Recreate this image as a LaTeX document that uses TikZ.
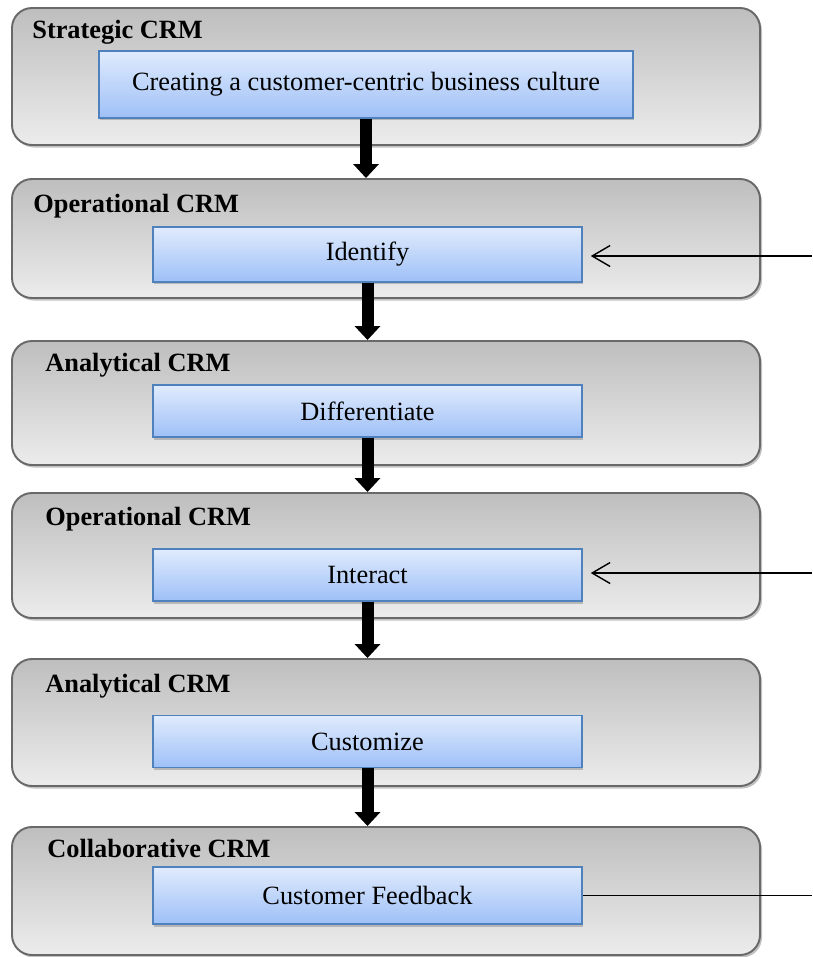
\documentclass[tikz,border=0pt]{standalone}
\usepackage{fontspec}
\setmainfont{Liberation Serif}
\usetikzlibrary{arrows.meta,fit,shadows}

\definecolor{layertop}{RGB}{190,190,190}
\definecolor{layerbot}{RGB}{236,236,236}
\definecolor{layerline}{RGB}{105,105,105}
\definecolor{tasktop}{RGB}{224,235,253}
\definecolor{taskbot}{RGB}{158,192,247}
\definecolor{taskline}{RGB}{79,129,189}

\begin{document}
\begin{tikzpicture}[
    x=0.02cm, y=-0.02cm,
    font=\fontsize{15}{18}\selectfont,
    layer/.style={rectangle, draw=layerline, line width=1.1pt, rounded corners=0.4cm, top color=layertop, bottom color=layerbot, inner sep=0pt, drop shadow={shadow xshift=0.04cm, shadow yshift=-0.05cm, fill=black!40, opacity=0.6}},
    task/.style={rectangle, draw=taskline, line width=0.9pt, top color=tasktop, bottom color=taskbot, inner sep=0pt, minimum width=8.58cm, minimum height=1.04cm, drop shadow={shadow xshift=0.02cm, shadow yshift=-0.05cm, fill=black!40, opacity=0.6}},
    layername/.style={anchor=base west, inner sep=0pt, font=\fontsize{15}{18}\selectfont\bfseries},
    flow/.style={-{Triangle[width=0.5cm,length=0.28cm]}, line width=0.24cm},
    feed/.style={{Straight Barb[length=0.36cm,width=0.42cm]}-, line width=0.8pt, shorten <=0.16cm}
]
\useasboundingbox (0,0) rectangle (812,957);

% layers
\node[layer, fit={(12,8) (760,145)}] (strategic) {};
\node[layer, fit={(12,179) (760,298)}] (operational) {};
\node[layer, fit={(12,341) (760,465)}] (analytical) {};
\node[layer, fit={(12,493) (760,618)}] (operational2) {};
\node[layer, fit={(12,659) (760,786)}] (analytical2) {};
\node[layer, fit={(12,827) (760,955)}] (collaborative) {};

\node[layername] (strategicname) at (32,38) {Strategic CRM};
\node[layername] (operationalname) at (33,212) {Operational CRM};
\node[layername] (analyticalname) at (45,371) {Analytical CRM};
\node[layername] (operational2name) at (45,525) {Operational CRM};
\node[layername] (analytical2name) at (45,692) {Analytical CRM};
\node[layername] (collaborativename) at (47,857) {Collaborative CRM};

% tasks
\node[task, minimum width=10.68cm, minimum height=1.34cm] (culture) at (366,84.5) {Creating a customer-centric business culture};
\node[task, minimum height=1.1cm] (identify) at (367.5,254.5) {Identify};
\node[task] (differentiate) at (367.5,411) {Differentiate};
\node[task] (interact) at (367.5,575) {Interact};
\node[task] (customize) at (367.5,741.5) {Customize};
\node[task, minimum height=1.14cm] (feedback) at (367.5,895.5) {Customer Feedback};

% steps
\draw[flow] (culture.south) -- (culture.south |- operational.north);
\draw[flow] (identify.south) -- (identify.south |- analytical.north);
\draw[flow] (differentiate.south) -- (differentiate.south |- operational2.north);
\draw[flow] (interact.south) -- (interact.south |- analytical2.north);
\draw[flow] (customize.south) -- (customize.south |- collaborative.north);

% outside links
\coordinate (in1) at (812,256);
\coordinate (in2) at (812,573);
\coordinate (out1) at (812,895.5);
\draw[feed] (identify.east |- in1) -- (in1);
\draw[feed] (interact.east |- in2) -- (in2);
\draw[line width=0.8pt] (feedback.east) -- (out1);
\end{tikzpicture}
\end{document}
